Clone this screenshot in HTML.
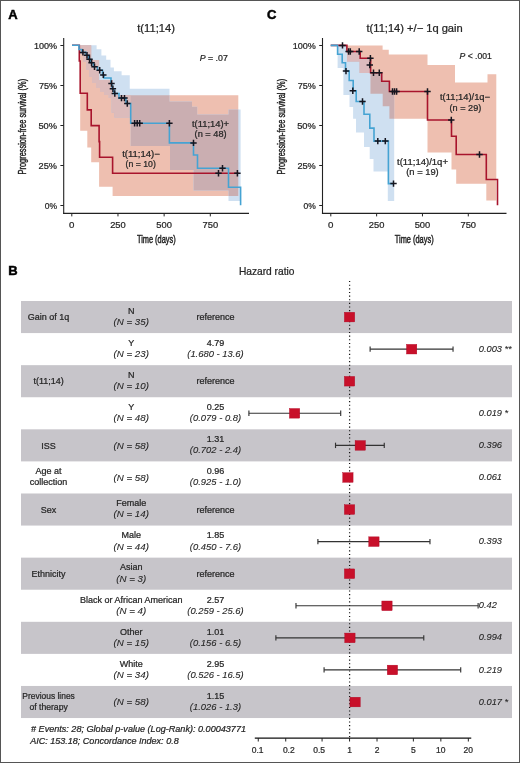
<!DOCTYPE html>
<html><head><meta charset="utf-8"><style>
html,body{margin:0;padding:0;background:#fff;}
svg{display:block;font-family:"Liberation Sans",sans-serif;will-change:transform;}
</style></head><body>
<svg width="520" height="763" viewBox="0 0 520 763">
<rect x="0" y="0" width="520" height="763" fill="#fff"/>
<text x="8.30" y="18.80" font-size="13" fill="#000" stroke="#000" stroke-width="0.5" font-weight="bold">A</text>
<clipPath id="cpA"><path d="M80.20,45.30 L91.20,45.30 L91.20,60.00 L99.10,60.00 L99.10,80.00 L112.60,80.00 L112.60,95.30 L238.30,95.30 L238.30,196.00 L112.60,196.00 L112.60,186.70 L99.10,186.70 L99.10,162.30 L91.20,162.30 L91.20,147.40 L87.30,147.40 L87.30,130.70 L80.20,130.70 Z"/></clipPath>
<path d="M80.20,45.30 L91.20,45.30 L91.20,60.00 L99.10,60.00 L99.10,80.00 L112.60,80.00 L112.60,95.30 L238.30,95.30 L238.30,196.00 L112.60,196.00 L112.60,186.70 L99.10,186.70 L99.10,162.30 L91.20,162.30 L91.20,147.40 L87.30,147.40 L87.30,130.70 L80.20,130.70 Z" fill="rgb(238,191,176)"/>
<path d="M79.00,45.30 L96.60,45.30 L96.60,49.20 L101.40,49.20 L101.40,55.50 L106.20,55.50 L106.20,59.80 L110.50,59.80 L110.50,67.50 L113.90,67.50 L113.90,71.30 L121.60,71.30 L121.60,75.20 L129.75,75.20 L129.75,88.80 L169.50,88.80 L169.50,101.60 L192.00,101.60 L192.00,106.80 L197.20,106.80 L197.20,114.60 L228.50,114.60 L228.50,109.40 L240.60,109.40 L240.60,201.00 L228.50,201.00 L228.50,190.50 L193.50,190.50 L193.50,170.00 L170.00,170.00 L170.00,146.00 L130.70,146.00 L130.70,117.60 L114.40,117.60 L114.40,112.80 L111.60,112.80 L111.60,98.00 L108.80,98.00 L108.80,95.00 L104.00,95.00 L104.00,92.00 L100.00,92.00 L100.00,88.00 L96.00,88.00 L96.00,83.00 L92.00,83.00 L92.00,77.00 L89.00,77.00 L89.00,70.00 L86.00,70.00 L86.00,62.00 L83.00,62.00 L83.00,54.00 L79.00,54.00 Z" fill="rgb(207,224,241)"/>
<path d="M79.00,45.30 L96.60,45.30 L96.60,49.20 L101.40,49.20 L101.40,55.50 L106.20,55.50 L106.20,59.80 L110.50,59.80 L110.50,67.50 L113.90,67.50 L113.90,71.30 L121.60,71.30 L121.60,75.20 L129.75,75.20 L129.75,88.80 L169.50,88.80 L169.50,101.60 L192.00,101.60 L192.00,106.80 L197.20,106.80 L197.20,114.60 L228.50,114.60 L228.50,109.40 L240.60,109.40 L240.60,201.00 L228.50,201.00 L228.50,190.50 L193.50,190.50 L193.50,170.00 L170.00,170.00 L170.00,146.00 L130.70,146.00 L130.70,117.60 L114.40,117.60 L114.40,112.80 L111.60,112.80 L111.60,98.00 L108.80,98.00 L108.80,95.00 L104.00,95.00 L104.00,92.00 L100.00,92.00 L100.00,88.00 L96.00,88.00 L96.00,83.00 L92.00,83.00 L92.00,77.00 L89.00,77.00 L89.00,70.00 L86.00,70.00 L86.00,62.00 L83.00,62.00 L83.00,54.00 L79.00,54.00 Z" fill="rgb(202,174,177)" clip-path="url(#cpA)"/>
<clipPath id="cpA2"><rect x="60" y="30" width="70.7" height="190"/></clipPath><g clip-path="url(#cpA2)"><path d="M79.00,45.30 L96.60,45.30 L96.60,49.20 L101.40,49.20 L101.40,55.50 L106.20,55.50 L106.20,59.80 L110.50,59.80 L110.50,67.50 L113.90,67.50 L113.90,71.30 L121.60,71.30 L121.60,75.20 L129.75,75.20 L129.75,88.80 L169.50,88.80 L169.50,101.60 L192.00,101.60 L192.00,106.80 L197.20,106.80 L197.20,114.60 L228.50,114.60 L228.50,109.40 L240.60,109.40 L240.60,201.00 L228.50,201.00 L228.50,190.50 L193.50,190.50 L193.50,170.00 L170.00,170.00 L170.00,146.00 L130.70,146.00 L130.70,117.60 L114.40,117.60 L114.40,112.80 L111.60,112.80 L111.60,98.00 L108.80,98.00 L108.80,95.00 L104.00,95.00 L104.00,92.00 L100.00,92.00 L100.00,88.00 L96.00,88.00 L96.00,83.00 L92.00,83.00 L92.00,77.00 L89.00,77.00 L89.00,70.00 L86.00,70.00 L86.00,62.00 L83.00,62.00 L83.00,54.00 L79.00,54.00 Z" fill="rgb(220,187,187)" clip-path="url(#cpA)"/></g>
<line x1="63.70" y1="38.00" x2="63.70" y2="213.90" stroke="#222" stroke-width="1.1"/>
<line x1="63.15" y1="213.40" x2="249.00" y2="213.40" stroke="#222" stroke-width="1.1"/>
<line x1="60.40" y1="45.50" x2="63.70" y2="45.50" stroke="#222" stroke-width="1"/>
<text x="57.00" y="48.60" font-size="8.9" fill="#262626" stroke="#262626" stroke-width="0.24" text-anchor="end" textLength="23.1" lengthAdjust="spacingAndGlyphs">100%</text>
<line x1="60.40" y1="85.50" x2="63.70" y2="85.50" stroke="#222" stroke-width="1"/>
<text x="57.00" y="88.60" font-size="8.9" fill="#262626" stroke="#262626" stroke-width="0.24" text-anchor="end" textLength="18.1" lengthAdjust="spacingAndGlyphs">75%</text>
<line x1="60.40" y1="125.50" x2="63.70" y2="125.50" stroke="#222" stroke-width="1"/>
<text x="57.00" y="128.60" font-size="8.9" fill="#262626" stroke="#262626" stroke-width="0.24" text-anchor="end" textLength="18.6" lengthAdjust="spacingAndGlyphs">50%</text>
<line x1="60.40" y1="165.50" x2="63.70" y2="165.50" stroke="#222" stroke-width="1"/>
<text x="57.00" y="168.60" font-size="8.9" fill="#262626" stroke="#262626" stroke-width="0.24" text-anchor="end" textLength="18.4" lengthAdjust="spacingAndGlyphs">25%</text>
<line x1="60.40" y1="205.50" x2="63.70" y2="205.50" stroke="#222" stroke-width="1"/>
<text x="57.00" y="208.60" font-size="8.9" fill="#262626" stroke="#262626" stroke-width="0.24" text-anchor="end" textLength="12.3" lengthAdjust="spacingAndGlyphs">0%</text>
<line x1="71.80" y1="213.40" x2="71.80" y2="216.40" stroke="#222" stroke-width="1"/>
<text x="71.80" y="227.80" font-size="9.4" fill="#262626" stroke="#262626" stroke-width="0.24" text-anchor="middle" textLength="5.4" lengthAdjust="spacingAndGlyphs">0</text>
<line x1="117.97" y1="213.40" x2="117.97" y2="216.40" stroke="#222" stroke-width="1"/>
<text x="117.97" y="227.80" font-size="9.4" fill="#262626" stroke="#262626" stroke-width="0.24" text-anchor="middle" textLength="15.6" lengthAdjust="spacingAndGlyphs">250</text>
<line x1="164.14" y1="213.40" x2="164.14" y2="216.40" stroke="#222" stroke-width="1"/>
<text x="164.14" y="227.80" font-size="9.4" fill="#262626" stroke="#262626" stroke-width="0.24" text-anchor="middle" textLength="15.6" lengthAdjust="spacingAndGlyphs">500</text>
<line x1="210.31" y1="213.40" x2="210.31" y2="216.40" stroke="#222" stroke-width="1"/>
<text x="210.31" y="227.80" font-size="9.4" fill="#262626" stroke="#262626" stroke-width="0.24" text-anchor="middle" textLength="15.6" lengthAdjust="spacingAndGlyphs">750</text>
<text x="156.30" y="243.20" font-size="10.4" fill="#1e1e1e" stroke="#1e1e1e" stroke-width="0.45" text-anchor="middle" textLength="38.8" lengthAdjust="spacingAndGlyphs">Time (days)</text>
<text transform="translate(26.1,126.7) rotate(-90)" font-size="10.2" fill="#1e1e1e" stroke="#1e1e1e" stroke-width="0.4" text-anchor="middle" textLength="95.6" lengthAdjust="spacingAndGlyphs">Progression-free survival (%)</text>
<text x="156.10" y="32.20" font-size="10.4" fill="#262626" stroke="#262626" stroke-width="0.24" text-anchor="middle" textLength="37.8" lengthAdjust="spacingAndGlyphs">t(11;14)</text>
<path d="M72.00,45.30 L79.30,45.30 L79.30,61.00 L80.20,61.00 L80.20,93.30 L87.30,93.30 L87.30,109.90 L91.20,109.90 L91.20,125.60 L99.10,125.60 L99.10,141.60 L99.60,141.60 L99.60,157.20 L112.60,157.20 L112.60,173.20 L238.50,173.20 L238.50,173.20" stroke="#a8142c" stroke-width="1.6" fill="none"/>
<path d="M72.00,45.30 L79.00,45.30 L79.00,49.50 L82.00,49.50 L82.00,52.40 L86.00,52.40 L86.00,55.30 L88.50,55.30 L88.50,59.30 L90.50,59.30 L90.50,62.80 L93.50,62.80 L93.50,66.80 L97.50,66.80 L97.50,70.30 L102.50,70.30 L102.50,74.90 L104.00,74.90 L104.00,78.00 L111.00,78.00 L111.00,83.50 L112.00,83.50 L112.00,88.80 L114.00,88.80 L114.00,93.50 L119.00,93.50 L119.00,98.10 L126.00,98.10 L126.00,103.50 L130.70,103.50 L130.70,123.20 L169.40,123.20 L169.40,142.90 L193.50,142.90 L193.50,155.00 L197.50,155.00 L197.50,168.30 L228.50,168.30 L228.50,187.20 L240.60,187.20 L240.60,205.30" stroke="#45a3d3" stroke-width="1.6" fill="none"/>
<path d="M79.70,52.40 H86.10 M82.90,49.20 V55.60" stroke="#15151f" stroke-width="1.5"/>
<path d="M83.80,55.30 H90.20 M87.00,52.10 V58.50" stroke="#15151f" stroke-width="1.5"/>
<path d="M86.30,59.30 H92.70 M89.50,56.10 V62.50" stroke="#15151f" stroke-width="1.5"/>
<path d="M88.40,62.80 H94.80 M91.60,59.60 V66.00" stroke="#15151f" stroke-width="1.5"/>
<path d="M91.30,66.80 H97.70 M94.50,63.60 V70.00" stroke="#15151f" stroke-width="1.5"/>
<path d="M96.50,70.30 H102.90 M99.70,67.10 V73.50" stroke="#15151f" stroke-width="1.5"/>
<path d="M100.10,74.90 H106.50 M103.30,71.70 V78.10" stroke="#15151f" stroke-width="1.5"/>
<path d="M108.30,83.50 H114.70 M111.50,80.30 V86.70" stroke="#15151f" stroke-width="1.5"/>
<path d="M109.70,88.80 H116.10 M112.90,85.60 V92.00" stroke="#15151f" stroke-width="1.5"/>
<path d="M111.60,93.50 H118.00 M114.80,90.30 V96.70" stroke="#15151f" stroke-width="1.5"/>
<path d="M118.30,98.10 H124.70 M121.50,94.90 V101.30" stroke="#15151f" stroke-width="1.5"/>
<path d="M121.30,98.10 H127.70 M124.50,94.90 V101.30" stroke="#15151f" stroke-width="1.5"/>
<path d="M124.10,103.50 H130.50 M127.30,100.30 V106.70" stroke="#15151f" stroke-width="1.5"/>
<path d="M131.40,123.20 H137.80 M134.60,120.00 V126.40" stroke="#15151f" stroke-width="1.5"/>
<path d="M134.00,123.20 H140.40 M137.20,120.00 V126.40" stroke="#15151f" stroke-width="1.5"/>
<path d="M136.50,123.20 H142.90 M139.70,120.00 V126.40" stroke="#15151f" stroke-width="1.5"/>
<path d="M166.20,123.20 H172.60 M169.40,120.00 V126.40" stroke="#15151f" stroke-width="1.5"/>
<path d="M190.30,142.90 H196.70 M193.50,139.70 V146.10" stroke="#15151f" stroke-width="1.5"/>
<path d="M219.30,168.30 H225.70 M222.50,165.10 V171.50" stroke="#15151f" stroke-width="1.5"/>
<path d="M215.30,173.20 H221.70 M218.50,170.00 V176.40" stroke="#15151f" stroke-width="1.5"/>
<path d="M234.20,173.20 H240.60 M237.40,170.00 V176.40" stroke="#15151f" stroke-width="1.5"/>
<text x="199.80" y="60.80" font-size="8.8" fill="#262626" stroke="#262626" stroke-width="0.24" textLength="28" lengthAdjust="spacingAndGlyphs"><tspan font-style="italic">P</tspan> = .07</text>
<text x="210.50" y="126.70" font-size="8.9" fill="#262626" stroke="#262626" stroke-width="0.24" text-anchor="middle" textLength="37.2" lengthAdjust="spacingAndGlyphs">t(11;14)+</text>
<text x="210.60" y="137.10" font-size="8.9" fill="#262626" stroke="#262626" stroke-width="0.24" text-anchor="middle" textLength="32" lengthAdjust="spacingAndGlyphs">(n = 48)</text>
<text x="141.00" y="156.90" font-size="8.9" fill="#262626" stroke="#262626" stroke-width="0.24" text-anchor="middle" textLength="37.7" lengthAdjust="spacingAndGlyphs">t(11;14)−</text>
<text x="140.70" y="167.10" font-size="8.9" fill="#262626" stroke="#262626" stroke-width="0.24" text-anchor="middle" textLength="30.2" lengthAdjust="spacingAndGlyphs">(n = 10)</text>
<text x="266.90" y="19.20" font-size="13" fill="#000" stroke="#000" stroke-width="0.5" font-weight="bold">C</text>
<clipPath id="cpC"><path d="M347.00,45.40 L382.60,45.40 L382.60,49.80 L388.75,49.80 L388.75,54.50 L427.50,54.50 L427.50,65.00 L455.00,65.00 L455.00,82.50 L487.50,82.50 L487.50,74.25 L496.30,74.25 L496.30,200.50 L486.30,200.50 L486.30,183.75 L456.20,183.75 L456.20,169.50 L451.50,169.50 L451.50,152.50 L427.50,152.50 L427.50,118.80 L389.40,118.80 L389.40,106.30 L382.70,106.30 L382.70,93.80 L370.50,93.80 L370.50,73.00 L359.60,73.00 L359.60,61.50 L347.00,61.50 Z"/></clipPath>
<path d="M347.00,45.40 L382.60,45.40 L382.60,49.80 L388.75,49.80 L388.75,54.50 L427.50,54.50 L427.50,65.00 L455.00,65.00 L455.00,82.50 L487.50,82.50 L487.50,74.25 L496.30,74.25 L496.30,200.50 L486.30,200.50 L486.30,183.75 L456.20,183.75 L456.20,169.50 L451.50,169.50 L451.50,152.50 L427.50,152.50 L427.50,118.80 L389.40,118.80 L389.40,106.30 L382.70,106.30 L382.70,93.80 L370.50,93.80 L370.50,73.00 L359.60,73.00 L359.60,61.50 L347.00,61.50 Z" fill="rgb(238,191,176)"/>
<path d="M337.60,45.40 L346.00,45.40 L346.00,46.00 L347.00,46.00 L347.00,51.50 L359.60,51.50 L359.60,58.50 L370.50,58.50 L370.50,74.00 L382.50,74.00 L382.50,82.00 L389.00,82.00 L389.00,93.00 L394.20,93.00 L394.20,200.90 L387.80,200.90 L387.80,171.40 L373.50,171.40 L373.50,159.10 L369.70,159.10 L369.70,146.90 L364.00,146.90 L364.00,132.40 L356.00,132.40 L356.00,118.70 L353.10,118.70 L353.10,107.00 L349.50,107.00 L349.50,95.00 L343.40,95.00 L343.40,68.00 L337.60,68.00 Z" fill="rgb(207,224,241)"/>
<path d="M337.60,45.40 L346.00,45.40 L346.00,46.00 L347.00,46.00 L347.00,51.50 L359.60,51.50 L359.60,58.50 L370.50,58.50 L370.50,74.00 L382.50,74.00 L382.50,82.00 L389.00,82.00 L389.00,93.00 L394.20,93.00 L394.20,200.90 L387.80,200.90 L387.80,171.40 L373.50,171.40 L373.50,159.10 L369.70,159.10 L369.70,146.90 L364.00,146.90 L364.00,132.40 L356.00,132.40 L356.00,118.70 L353.10,118.70 L353.10,107.00 L349.50,107.00 L349.50,95.00 L343.40,95.00 L343.40,68.00 L337.60,68.00 Z" fill="rgb(202,174,177)" clip-path="url(#cpC)"/>
<clipPath id="cpC2"><rect x="320" y="30" width="50.3" height="190"/></clipPath><g clip-path="url(#cpC2)"><path d="M337.60,45.40 L346.00,45.40 L346.00,46.00 L347.00,46.00 L347.00,51.50 L359.60,51.50 L359.60,58.50 L370.50,58.50 L370.50,74.00 L382.50,74.00 L382.50,82.00 L389.00,82.00 L389.00,93.00 L394.20,93.00 L394.20,200.90 L387.80,200.90 L387.80,171.40 L373.50,171.40 L373.50,159.10 L369.70,159.10 L369.70,146.90 L364.00,146.90 L364.00,132.40 L356.00,132.40 L356.00,118.70 L353.10,118.70 L353.10,107.00 L349.50,107.00 L349.50,95.00 L343.40,95.00 L343.40,68.00 L337.60,68.00 Z" fill="rgb(220,187,190)" clip-path="url(#cpC)"/></g>
<line x1="322.50" y1="38.00" x2="322.50" y2="213.90" stroke="#222" stroke-width="1.1"/>
<line x1="321.95" y1="213.40" x2="506.50" y2="213.40" stroke="#222" stroke-width="1.1"/>
<line x1="319.20" y1="45.50" x2="322.50" y2="45.50" stroke="#222" stroke-width="1"/>
<text x="315.80" y="48.60" font-size="8.9" fill="#262626" stroke="#262626" stroke-width="0.24" text-anchor="end" textLength="23.1" lengthAdjust="spacingAndGlyphs">100%</text>
<line x1="319.20" y1="85.50" x2="322.50" y2="85.50" stroke="#222" stroke-width="1"/>
<text x="315.80" y="88.60" font-size="8.9" fill="#262626" stroke="#262626" stroke-width="0.24" text-anchor="end" textLength="18.1" lengthAdjust="spacingAndGlyphs">75%</text>
<line x1="319.20" y1="125.50" x2="322.50" y2="125.50" stroke="#222" stroke-width="1"/>
<text x="315.80" y="128.60" font-size="8.9" fill="#262626" stroke="#262626" stroke-width="0.24" text-anchor="end" textLength="18.6" lengthAdjust="spacingAndGlyphs">50%</text>
<line x1="319.20" y1="165.50" x2="322.50" y2="165.50" stroke="#222" stroke-width="1"/>
<text x="315.80" y="168.60" font-size="8.9" fill="#262626" stroke="#262626" stroke-width="0.24" text-anchor="end" textLength="18.4" lengthAdjust="spacingAndGlyphs">25%</text>
<line x1="319.20" y1="205.50" x2="322.50" y2="205.50" stroke="#222" stroke-width="1"/>
<text x="315.80" y="208.60" font-size="8.9" fill="#262626" stroke="#262626" stroke-width="0.24" text-anchor="end" textLength="12.3" lengthAdjust="spacingAndGlyphs">0%</text>
<line x1="330.80" y1="213.40" x2="330.80" y2="216.40" stroke="#222" stroke-width="1"/>
<text x="330.80" y="227.80" font-size="9.4" fill="#262626" stroke="#262626" stroke-width="0.24" text-anchor="middle" textLength="5.4" lengthAdjust="spacingAndGlyphs">0</text>
<line x1="376.63" y1="213.40" x2="376.63" y2="216.40" stroke="#222" stroke-width="1"/>
<text x="376.63" y="227.80" font-size="9.4" fill="#262626" stroke="#262626" stroke-width="0.24" text-anchor="middle" textLength="15.6" lengthAdjust="spacingAndGlyphs">250</text>
<line x1="422.46" y1="213.40" x2="422.46" y2="216.40" stroke="#222" stroke-width="1"/>
<text x="422.46" y="227.80" font-size="9.4" fill="#262626" stroke="#262626" stroke-width="0.24" text-anchor="middle" textLength="15.6" lengthAdjust="spacingAndGlyphs">500</text>
<line x1="468.29" y1="213.40" x2="468.29" y2="216.40" stroke="#222" stroke-width="1"/>
<text x="468.29" y="227.80" font-size="9.4" fill="#262626" stroke="#262626" stroke-width="0.24" text-anchor="middle" textLength="15.6" lengthAdjust="spacingAndGlyphs">750</text>
<text x="414.20" y="243.20" font-size="10.4" fill="#1e1e1e" stroke="#1e1e1e" stroke-width="0.45" text-anchor="middle" textLength="38.8" lengthAdjust="spacingAndGlyphs">Time (days)</text>
<text transform="translate(284.9,126.7) rotate(-90)" font-size="10.2" fill="#1e1e1e" stroke="#1e1e1e" stroke-width="0.4" text-anchor="middle" textLength="95.6" lengthAdjust="spacingAndGlyphs">Progression-free survival (%)</text>
<text x="414.60" y="32.20" font-size="10.4" fill="#262626" stroke="#262626" stroke-width="0.24" text-anchor="middle" textLength="96.2" lengthAdjust="spacingAndGlyphs">t(11;14) +/− 1q gain</text>
<path d="M330.70,45.40 L346.90,45.40 L346.90,51.50 L360.20,51.50 L360.20,58.30 L370.60,58.30 L370.60,72.70 L381.70,72.70 L381.70,81.30 L389.40,81.30 L389.40,91.50 L427.50,91.50 L427.50,120.00 L451.50,120.00 L451.50,136.30 L456.20,136.30 L456.20,154.50 L486.30,154.50 L486.30,179.50 L497.50,179.50 L497.50,205.30" stroke="#a8142c" stroke-width="1.6" fill="none"/>
<path d="M330.70,45.40 L337.60,45.40 L337.60,54.20 L342.20,54.20 L342.20,62.80 L345.50,62.80 L345.50,71.10 L349.20,71.10 L349.20,80.50 L353.20,80.50 L353.20,90.70 L356.20,90.70 L356.20,101.50 L364.00,101.50 L364.00,114.20 L369.80,114.20 L369.80,128.10 L374.00,128.10 L374.00,141.10 L388.40,141.10 L388.40,183.60 L394.00,183.60 L394.00,183.60" stroke="#45a3d3" stroke-width="1.6" fill="none"/>
<path d="M339.30,45.40 H345.70 M342.50,42.20 V48.60" stroke="#15151f" stroke-width="1.5"/>
<path d="M345.40,51.50 H351.80 M348.60,48.30 V54.70" stroke="#15151f" stroke-width="1.5"/>
<path d="M347.10,51.50 H353.50 M350.30,48.30 V54.70" stroke="#15151f" stroke-width="1.5"/>
<path d="M356.00,51.50 H362.40 M359.20,48.30 V54.70" stroke="#15151f" stroke-width="1.5"/>
<path d="M367.20,58.30 H373.60 M370.40,55.10 V61.50" stroke="#15151f" stroke-width="1.5"/>
<path d="M366.60,65.00 H373.00 M369.80,61.80 V68.20" stroke="#15151f" stroke-width="1.5"/>
<path d="M370.30,72.70 H376.70 M373.50,69.50 V75.90" stroke="#15151f" stroke-width="1.5"/>
<path d="M376.10,72.70 H382.50 M379.30,69.50 V75.90" stroke="#15151f" stroke-width="1.5"/>
<path d="M389.30,91.50 H395.70 M392.50,88.30 V94.70" stroke="#15151f" stroke-width="1.5"/>
<path d="M391.30,91.50 H397.70 M394.50,88.30 V94.70" stroke="#15151f" stroke-width="1.5"/>
<path d="M393.40,91.50 H399.80 M396.60,88.30 V94.70" stroke="#15151f" stroke-width="1.5"/>
<path d="M424.30,91.50 H430.70 M427.50,88.30 V94.70" stroke="#15151f" stroke-width="1.5"/>
<path d="M448.10,120.00 H454.50 M451.30,116.80 V123.20" stroke="#15151f" stroke-width="1.5"/>
<path d="M476.30,154.50 H482.70 M479.50,151.30 V157.70" stroke="#15151f" stroke-width="1.5"/>
<path d="M342.80,71.10 H349.20 M346.00,67.90 V74.30" stroke="#15151f" stroke-width="1.5"/>
<path d="M349.60,90.70 H356.00 M352.80,87.50 V93.90" stroke="#15151f" stroke-width="1.5"/>
<path d="M359.30,101.50 H365.70 M362.50,98.30 V104.70" stroke="#15151f" stroke-width="1.5"/>
<path d="M374.60,141.10 H381.00 M377.80,137.90 V144.30" stroke="#15151f" stroke-width="1.5"/>
<path d="M382.10,141.10 H388.50 M385.30,137.90 V144.30" stroke="#15151f" stroke-width="1.5"/>
<path d="M390.30,183.60 H396.70 M393.50,180.40 V186.80" stroke="#15151f" stroke-width="1.5"/>
<text x="459.50" y="58.70" font-size="8.7" fill="#262626" stroke="#262626" stroke-width="0.24" textLength="32.3" lengthAdjust="spacingAndGlyphs"><tspan font-style="italic">P</tspan> &lt; .001</text>
<text x="465.00" y="99.50" font-size="8.9" fill="#262626" stroke="#262626" stroke-width="0.24" text-anchor="middle" textLength="50" lengthAdjust="spacingAndGlyphs">t(11;14)/1q−</text>
<text x="465.40" y="110.75" font-size="8.9" fill="#262626" stroke="#262626" stroke-width="0.24" text-anchor="middle" textLength="31.75" lengthAdjust="spacingAndGlyphs">(n = 29)</text>
<text x="422.50" y="164.50" font-size="8.9" fill="#262626" stroke="#262626" stroke-width="0.24" text-anchor="middle" textLength="51" lengthAdjust="spacingAndGlyphs">t(11;14)/1q+</text>
<text x="422.50" y="174.50" font-size="8.9" fill="#262626" stroke="#262626" stroke-width="0.24" text-anchor="middle" textLength="32.5" lengthAdjust="spacingAndGlyphs">(n = 19)</text>
<text x="8.30" y="274.60" font-size="13" fill="#000" stroke="#000" stroke-width="0.5" font-weight="bold">B</text>
<text x="266.70" y="274.60" font-size="10.2" fill="#262626" stroke="#262626" stroke-width="0.24" text-anchor="middle">Hazard ratio</text>
<rect x="21" y="301.00" width="491" height="32.08" fill="#c7c5ca"/>
<rect x="21" y="365.16" width="491" height="32.08" fill="#c7c5ca"/>
<rect x="21" y="429.32" width="491" height="32.08" fill="#c7c5ca"/>
<rect x="21" y="493.48" width="491" height="32.08" fill="#c7c5ca"/>
<rect x="21" y="557.64" width="491" height="32.08" fill="#c7c5ca"/>
<rect x="21" y="621.80" width="491" height="32.08" fill="#c7c5ca"/>
<rect x="21" y="685.96" width="491" height="32.08" fill="#c7c5ca"/>
<line x1="349.6" y1="281" x2="349.6" y2="737.5" stroke="#111" stroke-width="1.25" stroke-dasharray="1.1,2.54"/>
<text x="48.60" y="320.24" font-size="9" fill="#262626" stroke="#262626" stroke-width="0.24" text-anchor="middle">Gain of 1q</text>
<text x="131.20" y="313.84" font-size="9" fill="#262626" stroke="#262626" stroke-width="0.24" text-anchor="middle">N</text>
<text x="131.20" y="324.94" font-size="9.4" fill="#262626" stroke="#262626" stroke-width="0.1" text-anchor="middle" font-style="italic" textLength="35.38" lengthAdjust="spacingAndGlyphs">(N = 35)</text>
<text x="215.50" y="320.24" font-size="9" fill="#262626" stroke="#262626" stroke-width="0.24" text-anchor="middle">reference</text>
<rect x="344.40" y="312.29" width="10.3" height="9.6" fill="#c8102a" stroke="#b00020" stroke-width="0.4"/>
<text x="131.20" y="345.92" font-size="9" fill="#262626" stroke="#262626" stroke-width="0.24" text-anchor="middle">Y</text>
<text x="131.20" y="357.02" font-size="9.4" fill="#262626" stroke="#262626" stroke-width="0.1" text-anchor="middle" font-style="italic" textLength="35.38" lengthAdjust="spacingAndGlyphs">(N = 23)</text>
<text x="215.50" y="345.92" font-size="9" fill="#262626" stroke="#262626" stroke-width="0.24" text-anchor="middle">4.79</text>
<text x="215.50" y="357.02" font-size="9.4" fill="#262626" stroke="#262626" stroke-width="0.1" text-anchor="middle" font-style="italic" textLength="56.45" lengthAdjust="spacingAndGlyphs">(1.680 - 13.6)</text>
<text x="478.75" y="351.72" font-size="9.4" fill="#262626" stroke="#262626" stroke-width="0.1" font-style="italic" textLength="32.99" lengthAdjust="spacingAndGlyphs">0.003 **</text>
<line x1="370.12" y1="349.12" x2="453.04" y2="349.12" stroke="#333" stroke-width="1.15"/>
<line x1="370.12" y1="346.42" x2="370.12" y2="351.82" stroke="#333" stroke-width="1.15"/>
<line x1="453.04" y1="346.42" x2="453.04" y2="351.82" stroke="#333" stroke-width="1.15"/>
<rect x="406.51" y="344.37" width="10.3" height="9.6" fill="#c8102a" stroke="#b00020" stroke-width="0.4"/>
<text x="48.60" y="384.40" font-size="9" fill="#262626" stroke="#262626" stroke-width="0.24" text-anchor="middle">t(11;14)</text>
<text x="131.20" y="378.00" font-size="9" fill="#262626" stroke="#262626" stroke-width="0.24" text-anchor="middle">N</text>
<text x="131.20" y="389.10" font-size="9.4" fill="#262626" stroke="#262626" stroke-width="0.1" text-anchor="middle" font-style="italic" textLength="35.38" lengthAdjust="spacingAndGlyphs">(N = 10)</text>
<text x="215.50" y="384.40" font-size="9" fill="#262626" stroke="#262626" stroke-width="0.24" text-anchor="middle">reference</text>
<rect x="344.40" y="376.45" width="10.3" height="9.6" fill="#c8102a" stroke="#b00020" stroke-width="0.4"/>
<text x="131.20" y="410.08" font-size="9" fill="#262626" stroke="#262626" stroke-width="0.24" text-anchor="middle">Y</text>
<text x="131.20" y="421.18" font-size="9.4" fill="#262626" stroke="#262626" stroke-width="0.1" text-anchor="middle" font-style="italic" textLength="35.38" lengthAdjust="spacingAndGlyphs">(N = 48)</text>
<text x="215.50" y="410.08" font-size="9" fill="#262626" stroke="#262626" stroke-width="0.24" text-anchor="middle">0.25</text>
<text x="215.50" y="421.18" font-size="9.4" fill="#262626" stroke="#262626" stroke-width="0.1" text-anchor="middle" font-style="italic" textLength="51.22" lengthAdjust="spacingAndGlyphs">(0.079 - 0.8)</text>
<text x="478.75" y="415.88" font-size="9.4" fill="#262626" stroke="#262626" stroke-width="0.1" font-style="italic" textLength="29.38" lengthAdjust="spacingAndGlyphs">0.019 *</text>
<line x1="248.90" y1="413.28" x2="340.70" y2="413.28" stroke="#333" stroke-width="1.15"/>
<line x1="248.90" y1="410.58" x2="248.90" y2="415.98" stroke="#333" stroke-width="1.15"/>
<line x1="340.70" y1="410.58" x2="340.70" y2="415.98" stroke="#333" stroke-width="1.15"/>
<rect x="289.43" y="408.53" width="10.3" height="9.6" fill="#c8102a" stroke="#b00020" stroke-width="0.4"/>
<text x="48.60" y="448.56" font-size="9" fill="#262626" stroke="#262626" stroke-width="0.24" text-anchor="middle">ISS</text>
<text x="131.20" y="448.56" font-size="9.4" fill="#262626" stroke="#262626" stroke-width="0.1" text-anchor="middle" font-style="italic" textLength="35.38" lengthAdjust="spacingAndGlyphs">(N = 58)</text>
<text x="215.50" y="442.16" font-size="9" fill="#262626" stroke="#262626" stroke-width="0.24" text-anchor="middle">1.31</text>
<text x="215.50" y="453.26" font-size="9.4" fill="#262626" stroke="#262626" stroke-width="0.1" text-anchor="middle" font-style="italic" textLength="51.22" lengthAdjust="spacingAndGlyphs">(0.702 - 2.4)</text>
<text x="478.75" y="447.96" font-size="9.4" fill="#262626" stroke="#262626" stroke-width="0.1" font-style="italic" textLength="23.19" lengthAdjust="spacingAndGlyphs">0.396</text>
<line x1="335.52" y1="445.36" x2="384.26" y2="445.36" stroke="#333" stroke-width="1.15"/>
<line x1="335.52" y1="442.66" x2="335.52" y2="448.06" stroke="#333" stroke-width="1.15"/>
<line x1="384.26" y1="442.66" x2="384.26" y2="448.06" stroke="#333" stroke-width="1.15"/>
<rect x="355.11" y="440.61" width="10.3" height="9.6" fill="#c8102a" stroke="#b00020" stroke-width="0.4"/>
<text x="48.60" y="474.24" font-size="9" fill="#262626" stroke="#262626" stroke-width="0.24" text-anchor="middle">Age at</text>
<text x="48.60" y="485.34" font-size="9" fill="#262626" stroke="#262626" stroke-width="0.24" text-anchor="middle">collection</text>
<text x="131.20" y="480.64" font-size="9.4" fill="#262626" stroke="#262626" stroke-width="0.1" text-anchor="middle" font-style="italic" textLength="35.38" lengthAdjust="spacingAndGlyphs">(N = 58)</text>
<text x="215.50" y="474.24" font-size="9" fill="#262626" stroke="#262626" stroke-width="0.24" text-anchor="middle">0.96</text>
<text x="215.50" y="485.34" font-size="9.4" fill="#262626" stroke="#262626" stroke-width="0.1" text-anchor="middle" font-style="italic" textLength="51.22" lengthAdjust="spacingAndGlyphs">(0.925 - 1.0)</text>
<text x="478.75" y="480.04" font-size="9.4" fill="#262626" stroke="#262626" stroke-width="0.1" font-style="italic" textLength="23.19" lengthAdjust="spacingAndGlyphs">0.061</text>
<rect x="342.78" y="472.69" width="10.3" height="9.6" fill="#c8102a" stroke="#b00020" stroke-width="0.4"/>
<text x="48.60" y="512.72" font-size="9" fill="#262626" stroke="#262626" stroke-width="0.24" text-anchor="middle">Sex</text>
<text x="131.20" y="506.32" font-size="9" fill="#262626" stroke="#262626" stroke-width="0.24" text-anchor="middle">Female</text>
<text x="131.20" y="517.42" font-size="9.4" fill="#262626" stroke="#262626" stroke-width="0.1" text-anchor="middle" font-style="italic" textLength="35.38" lengthAdjust="spacingAndGlyphs">(N = 14)</text>
<text x="215.50" y="512.72" font-size="9" fill="#262626" stroke="#262626" stroke-width="0.24" text-anchor="middle">reference</text>
<rect x="344.40" y="504.77" width="10.3" height="9.6" fill="#c8102a" stroke="#b00020" stroke-width="0.4"/>
<text x="131.20" y="538.40" font-size="9" fill="#262626" stroke="#262626" stroke-width="0.24" text-anchor="middle">Male</text>
<text x="131.20" y="549.50" font-size="9.4" fill="#262626" stroke="#262626" stroke-width="0.1" text-anchor="middle" font-style="italic" textLength="35.38" lengthAdjust="spacingAndGlyphs">(N = 44)</text>
<text x="215.50" y="538.40" font-size="9" fill="#262626" stroke="#262626" stroke-width="0.24" text-anchor="middle">1.85</text>
<text x="215.50" y="549.50" font-size="9.4" fill="#262626" stroke="#262626" stroke-width="0.1" text-anchor="middle" font-style="italic" textLength="51.22" lengthAdjust="spacingAndGlyphs">(0.450 - 7.6)</text>
<text x="478.75" y="544.20" font-size="9.4" fill="#262626" stroke="#262626" stroke-width="0.1" font-style="italic" textLength="23.19" lengthAdjust="spacingAndGlyphs">0.393</text>
<line x1="317.89" y1="541.60" x2="429.97" y2="541.60" stroke="#333" stroke-width="1.15"/>
<line x1="317.89" y1="538.90" x2="317.89" y2="544.30" stroke="#333" stroke-width="1.15"/>
<line x1="429.97" y1="538.90" x2="429.97" y2="544.30" stroke="#333" stroke-width="1.15"/>
<rect x="368.79" y="536.85" width="10.3" height="9.6" fill="#c8102a" stroke="#b00020" stroke-width="0.4"/>
<text x="48.60" y="576.88" font-size="9" fill="#262626" stroke="#262626" stroke-width="0.24" text-anchor="middle">Ethnicity</text>
<text x="131.20" y="570.48" font-size="9" fill="#262626" stroke="#262626" stroke-width="0.24" text-anchor="middle">Asian</text>
<text x="131.20" y="581.58" font-size="9.4" fill="#262626" stroke="#262626" stroke-width="0.1" text-anchor="middle" font-style="italic" textLength="29.98" lengthAdjust="spacingAndGlyphs">(N = 3)</text>
<text x="215.50" y="576.88" font-size="9" fill="#262626" stroke="#262626" stroke-width="0.24" text-anchor="middle">reference</text>
<rect x="344.40" y="568.93" width="10.3" height="9.6" fill="#c8102a" stroke="#b00020" stroke-width="0.4"/>
<text x="131.20" y="602.56" font-size="9" fill="#262626" stroke="#262626" stroke-width="0.24" text-anchor="middle">Black or African American</text>
<text x="131.20" y="613.66" font-size="9.4" fill="#262626" stroke="#262626" stroke-width="0.1" text-anchor="middle" font-style="italic" textLength="29.98" lengthAdjust="spacingAndGlyphs">(N = 4)</text>
<text x="215.50" y="602.56" font-size="9" fill="#262626" stroke="#262626" stroke-width="0.24" text-anchor="middle">2.57</text>
<text x="215.50" y="613.66" font-size="9.4" fill="#262626" stroke="#262626" stroke-width="0.1" text-anchor="middle" font-style="italic" textLength="56.45" lengthAdjust="spacingAndGlyphs">(0.259 - 25.6)</text>
<text x="478.75" y="608.36" font-size="9.4" fill="#262626" stroke="#262626" stroke-width="0.1" font-style="italic" textLength="18.04" lengthAdjust="spacingAndGlyphs">0.42</text>
<line x1="295.98" y1="605.76" x2="478.12" y2="605.76" stroke="#333" stroke-width="1.15"/>
<line x1="295.98" y1="603.06" x2="295.98" y2="608.46" stroke="#333" stroke-width="1.15"/>
<line x1="478.12" y1="603.06" x2="478.12" y2="608.46" stroke="#333" stroke-width="1.15"/>
<rect x="381.83" y="601.01" width="10.3" height="9.6" fill="#c8102a" stroke="#b00020" stroke-width="0.4"/>
<text x="131.20" y="634.64" font-size="9" fill="#262626" stroke="#262626" stroke-width="0.24" text-anchor="middle">Other</text>
<text x="131.20" y="645.74" font-size="9.4" fill="#262626" stroke="#262626" stroke-width="0.1" text-anchor="middle" font-style="italic" textLength="35.38" lengthAdjust="spacingAndGlyphs">(N = 15)</text>
<text x="215.50" y="634.64" font-size="9" fill="#262626" stroke="#262626" stroke-width="0.24" text-anchor="middle">1.01</text>
<text x="215.50" y="645.74" font-size="9.4" fill="#262626" stroke="#262626" stroke-width="0.1" text-anchor="middle" font-style="italic" textLength="51.22" lengthAdjust="spacingAndGlyphs">(0.156 - 6.5)</text>
<text x="478.75" y="640.44" font-size="9.4" fill="#262626" stroke="#262626" stroke-width="0.1" font-style="italic" textLength="23.19" lengthAdjust="spacingAndGlyphs">0.994</text>
<line x1="275.88" y1="637.84" x2="423.77" y2="637.84" stroke="#333" stroke-width="1.15"/>
<line x1="275.88" y1="635.14" x2="275.88" y2="640.54" stroke="#333" stroke-width="1.15"/>
<line x1="423.77" y1="635.14" x2="423.77" y2="640.54" stroke="#333" stroke-width="1.15"/>
<rect x="344.79" y="633.09" width="10.3" height="9.6" fill="#c8102a" stroke="#b00020" stroke-width="0.4"/>
<text x="131.20" y="666.72" font-size="9" fill="#262626" stroke="#262626" stroke-width="0.24" text-anchor="middle">White</text>
<text x="131.20" y="677.82" font-size="9.4" fill="#262626" stroke="#262626" stroke-width="0.1" text-anchor="middle" font-style="italic" textLength="35.38" lengthAdjust="spacingAndGlyphs">(N = 34)</text>
<text x="215.50" y="666.72" font-size="9" fill="#262626" stroke="#262626" stroke-width="0.24" text-anchor="middle">2.95</text>
<text x="215.50" y="677.82" font-size="9.4" fill="#262626" stroke="#262626" stroke-width="0.1" text-anchor="middle" font-style="italic" textLength="56.45" lengthAdjust="spacingAndGlyphs">(0.526 - 16.5)</text>
<text x="478.75" y="672.52" font-size="9.4" fill="#262626" stroke="#262626" stroke-width="0.1" font-style="italic" textLength="23.19" lengthAdjust="spacingAndGlyphs">0.219</text>
<line x1="324.08" y1="669.92" x2="460.71" y2="669.92" stroke="#333" stroke-width="1.15"/>
<line x1="324.08" y1="667.22" x2="324.08" y2="672.62" stroke="#333" stroke-width="1.15"/>
<line x1="460.71" y1="667.22" x2="460.71" y2="672.62" stroke="#333" stroke-width="1.15"/>
<rect x="387.29" y="665.17" width="10.3" height="9.6" fill="#c8102a" stroke="#b00020" stroke-width="0.4"/>
<text x="48.60" y="699.20" font-size="9" fill="#262626" stroke="#262626" stroke-width="0.24" text-anchor="middle" textLength="52.5" lengthAdjust="spacingAndGlyphs">Previous lines</text>
<text x="48.60" y="710.10" font-size="9" fill="#262626" stroke="#262626" stroke-width="0.24" text-anchor="middle" textLength="38.4" lengthAdjust="spacingAndGlyphs">of therapy</text>
<text x="131.20" y="705.20" font-size="9.4" fill="#262626" stroke="#262626" stroke-width="0.1" text-anchor="middle" font-style="italic" textLength="35.38" lengthAdjust="spacingAndGlyphs">(N = 58)</text>
<text x="215.50" y="698.80" font-size="9" fill="#262626" stroke="#262626" stroke-width="0.24" text-anchor="middle">1.15</text>
<text x="215.50" y="709.90" font-size="9.4" fill="#262626" stroke="#262626" stroke-width="0.1" text-anchor="middle" font-style="italic" textLength="51.22" lengthAdjust="spacingAndGlyphs">(1.026 - 1.3)</text>
<text x="478.75" y="704.60" font-size="9.4" fill="#262626" stroke="#262626" stroke-width="0.1" font-style="italic" textLength="29.38" lengthAdjust="spacingAndGlyphs">0.017 *</text>
<rect x="349.94" y="697.25" width="10.3" height="9.6" fill="#c8102a" stroke="#b00020" stroke-width="0.4"/>
<line x1="254.80" y1="738.20" x2="471.25" y2="738.20" stroke="#111" stroke-width="1.25"/>
<line x1="258.25" y1="738.00" x2="258.25" y2="741.50" stroke="#222" stroke-width="1"/>
<text x="257.70" y="752.80" font-size="8.5" fill="#2a2a2a" stroke="#2a2a2a" stroke-width="0.24" text-anchor="middle">0.1</text>
<line x1="285.73" y1="738.00" x2="285.73" y2="741.50" stroke="#222" stroke-width="1"/>
<text x="288.80" y="752.80" font-size="8.5" fill="#2a2a2a" stroke="#2a2a2a" stroke-width="0.24" text-anchor="middle">0.2</text>
<line x1="322.07" y1="738.00" x2="322.07" y2="741.50" stroke="#222" stroke-width="1"/>
<text x="319.20" y="752.80" font-size="8.5" fill="#2a2a2a" stroke="#2a2a2a" stroke-width="0.24" text-anchor="middle">0.5</text>
<line x1="349.55" y1="738.00" x2="349.55" y2="741.50" stroke="#222" stroke-width="1"/>
<text x="349.55" y="752.80" font-size="8.5" fill="#2a2a2a" stroke="#2a2a2a" stroke-width="0.24" text-anchor="middle">1</text>
<line x1="377.03" y1="738.00" x2="377.03" y2="741.50" stroke="#222" stroke-width="1"/>
<text x="377.03" y="752.80" font-size="8.5" fill="#2a2a2a" stroke="#2a2a2a" stroke-width="0.24" text-anchor="middle">2</text>
<line x1="413.37" y1="738.00" x2="413.37" y2="741.50" stroke="#222" stroke-width="1"/>
<text x="413.37" y="752.80" font-size="8.5" fill="#2a2a2a" stroke="#2a2a2a" stroke-width="0.24" text-anchor="middle">5</text>
<line x1="440.85" y1="738.00" x2="440.85" y2="741.50" stroke="#222" stroke-width="1"/>
<text x="440.85" y="752.80" font-size="8.5" fill="#2a2a2a" stroke="#2a2a2a" stroke-width="0.24" text-anchor="middle">10</text>
<line x1="468.33" y1="738.00" x2="468.33" y2="741.50" stroke="#222" stroke-width="1"/>
<text x="468.33" y="752.80" font-size="8.5" fill="#2a2a2a" stroke="#2a2a2a" stroke-width="0.24" text-anchor="middle">20</text>
<text x="31.00" y="732.30" font-size="9" fill="#262626" stroke="#262626" stroke-width="0.24" font-style="italic" textLength="215" lengthAdjust="spacingAndGlyphs"># Events: 28; Global p-value (Log-Rank): 0.00043771</text>
<text x="30.20" y="743.90" font-size="9" fill="#262626" stroke="#262626" stroke-width="0.24" font-style="italic" textLength="148.5" lengthAdjust="spacingAndGlyphs">AIC: 153.18; Concordance Index: 0.8</text>
<rect x="0.5" y="0.5" width="519" height="762" fill="none" stroke="#555" stroke-width="1"/>
</svg>
</body></html>
